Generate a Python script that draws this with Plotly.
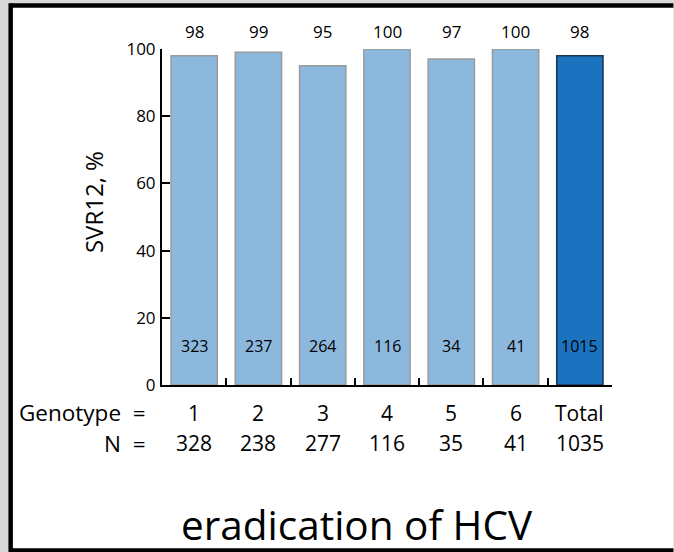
import plotly.graph_objects as go

# ---- data ----
genotypes = ["1", "2", "3", "4", "5", "6", "Total"]
svr12_pct = [98, 99, 95, 100, 97, 100, 98]
n_svr = [323, 237, 264, 116, 34, 41, 1015]
n_total = [328, 238, 277, 116, 35, 41, 1035]
y_ticks = [0, 20, 40, 60, 80, 100]

W, H = 674, 552
ML, MR, MT, MB = 162, 61.5, 49, 167
PW = W - ML - MR
PH = H - MT - MB

def px_x(px):
    return (px - ML) / PW

def px_y(py):
    return (H - MB - py) / PH

FONT = "Open Sans"
light = "#8db8dd"
dark = "#1b73bf"

colors = [light] * (len(genotypes) - 1) + [dark]
lines = ["#9a9a9a"] * (len(genotypes) - 1) + ["#1d3550"]

fig = go.Figure()
fig.add_trace(go.Bar(
    x=genotypes, y=svr12_pct, width=0.72,
    marker=dict(color=colors, line=dict(color=lines, width=1.5)),
    hoverinfo="skip",
))

ann = []
for i, v in enumerate(svr12_pct):
    ann.append(dict(x=i, y=100, xref="x", yref="y", text=str(v), showarrow=False,
                    yshift=18, font=dict(size=17, color="black", family=FONT)))
for i, v in enumerate(n_svr):
    ann.append(dict(x=i, y=0, xref="x", yref="y", text=str(v), showarrow=False,
                    yshift=39, font=dict(size=16, color="black", family=FONT)))
for i, g in enumerate(genotypes):
    ann.append(dict(x=i, y=0, xref="x", yref="y", text=g, showarrow=False,
                    yshift=-27.5, font=dict(size=21, color="black", family=FONT)))
for i, v in enumerate(n_total):
    ann.append(dict(x=i, y=0, xref="x", yref="y", text=str(v), showarrow=False,
                    yshift=-58, font=dict(size=21, color="black", family=FONT)))
ann.append(dict(x=px_x(148), y=0, xref="paper", yref="y", text="Genotype&nbsp;&nbsp;=",
                showarrow=False, xanchor="right", yshift=-27.5,
                font=dict(size=22.5, color="black", family=FONT)))
ann.append(dict(x=px_x(148), y=0, xref="paper", yref="y", text="N&nbsp;&nbsp;=",
                showarrow=False, xanchor="right", yshift=-58,
                font=dict(size=22.5, color="black", family=FONT)))
ann.append(dict(x=px_x(93), y=px_y(202), xref="paper", yref="paper", text="SVR12, %",
                showarrow=False, textangle=-90, xanchor="center", yanchor="middle",
                font=dict(size=24, color="black", family=FONT)))
ann.append(dict(x=px_x(357), y=px_y(524), xref="paper", yref="paper", text="eradication of HCV",
                showarrow=False, xanchor="center", yanchor="middle",
                font=dict(size=40.5, color="black", family=FONT)))

shapes = [
    dict(type="rect", xref="paper", yref="paper", layer="below",
         x0=px_x(10.5), x1=px_x(674), y0=px_y(5.5), y1=px_y(550.5),
         fillcolor="white", line=dict(width=0)),
    dict(type="line", xref="paper", yref="paper", layer="below",
         x0=px_x(10.5), x1=px_x(674), y0=px_y(5.5), y1=px_y(5.5),
         line=dict(color="black", width=4.5)),
    dict(type="line", xref="paper", yref="paper", layer="below",
         x0=px_x(10.5), x1=px_x(674), y0=px_y(550.5), y1=px_y(550.5),
         line=dict(color="black", width=4.5)),
    dict(type="line", xref="paper", yref="paper", layer="below",
         x0=px_x(10.5), x1=px_x(10.5), y0=px_y(3.3), y1=px_y(552),
         line=dict(color="black", width=4.5)),
]

fig.update_layout(
    width=W, height=H,
    margin=dict(l=ML, r=MR, t=MT, b=MB, pad=0),
    paper_bgcolor="#d9d9d9",
    plot_bgcolor="rgba(0,0,0,0)",
    showlegend=False,
    annotations=ann,
    shapes=shapes,
    xaxis=dict(type="category", categoryorder="array", categoryarray=genotypes,
               range=[-0.5, len(genotypes) - 0.5],
               showline=True, linecolor="black", linewidth=2,
               ticks="inside", tickson="boundaries", ticklen=7, tickwidth=2, tickcolor="black",
               showticklabels=False, showgrid=False, zeroline=False, fixedrange=True),
    yaxis=dict(range=[0, 100], tickvals=y_ticks,
               showline=True, linecolor="black", linewidth=2,
               ticks="inside", ticklen=8, tickwidth=2, tickcolor="black",
               tickfont=dict(size=17, color="black", family=FONT),
               ticklabelstandoff=1,
               showgrid=False, zeroline=False),
)

fig.write_html(
    "out.html", config={"displayModeBar": False},
    post_script=("document.documentElement.style.overflow='hidden';"
                 "document.documentElement.style.margin='0';"
                 "document.body.style.margin='0';document.body.style.overflow='hidden';"),
)
